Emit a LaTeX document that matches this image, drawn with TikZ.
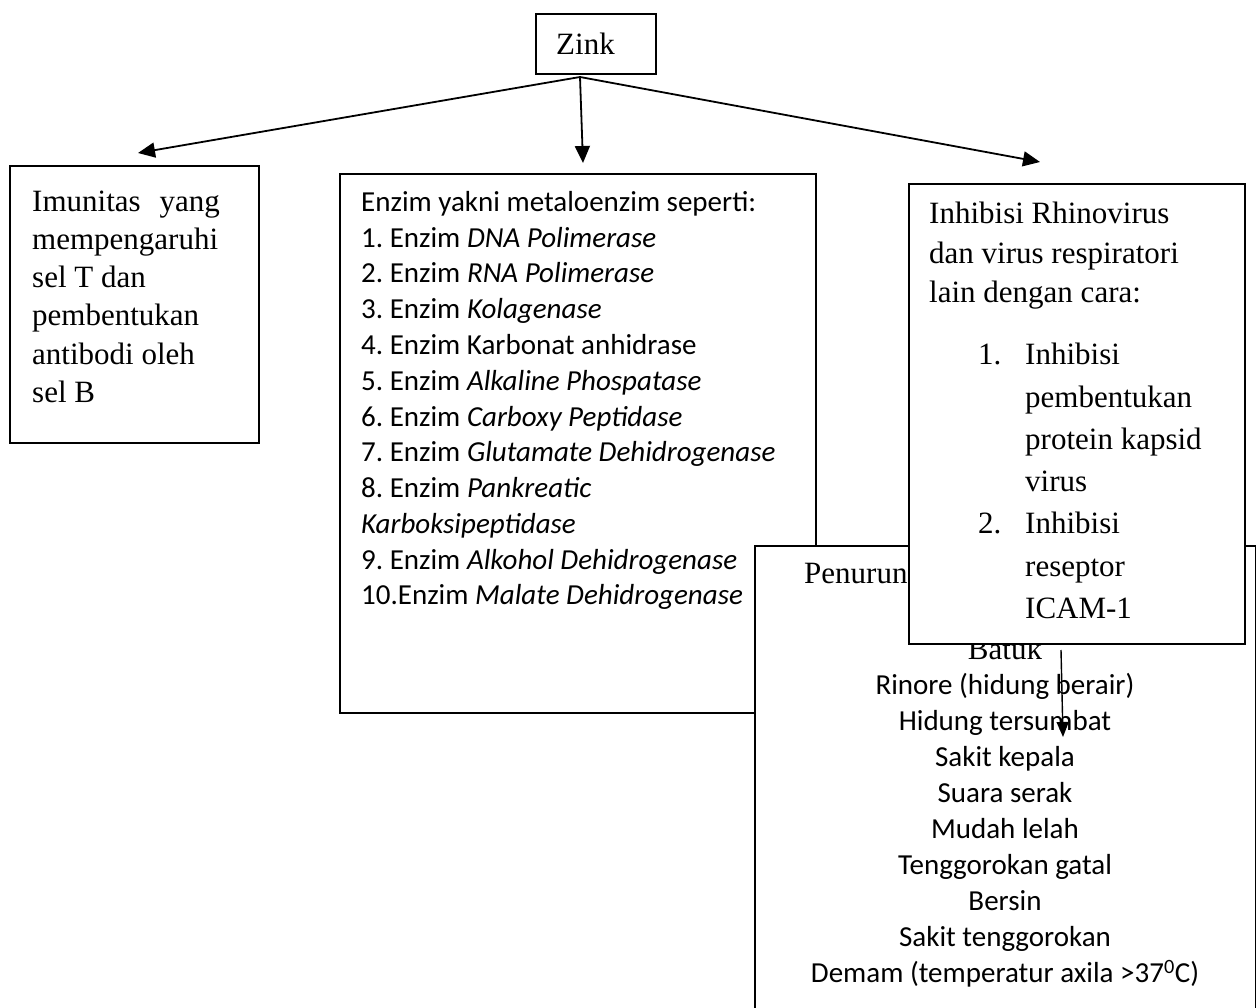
\documentclass[tikz,border=0pt]{standalone}
\usepackage{fontspec}
\setmainfont{Liberation Serif}
\newfontfamily\calfont{Carlito}
\usetikzlibrary{arrows.meta}
\frenchspacing
\begin{document}
\begin{tikzpicture}[x=1pt,y=-1pt,
  box/.style={draw, line width=1.7pt, fill=white, rectangle, inner sep=0pt, anchor=north west},
  tms/.style={font=\fontsize{31}{38}\selectfont, inner sep=0pt},
  cal/.style={font=\calfont\fontsize{29}{36}\selectfont, inner sep=0pt},
  arr/.style={-{Triangle[length=17pt,width=15pt]}, line width=1.8pt},
  arrthin/.style={-{Triangle[length=15pt,width=12pt]}, line width=1.4pt}]
\useasboundingbox (0,0) rectangle (1256,1008);
\clip (0,0) rectangle (1256,1008);

% Zink
\node[box, minimum width=120pt, minimum height=60pt] (zink) at (535,13) {};
\node[tms, anchor=base west] (zinkt) at (556,55) {Zink};

% left box
\node[box, minimum width=249pt, minimum height=277pt] (imun) at (9,165) {};
\foreach \t [count=\i from 0] in {Imunitas\hspace{19pt}yang, mempengaruhi, sel T dan, pembentukan, antibodi oleh, sel B}
  \node[tms, anchor=base west] (imun\i) at (32,212+38*\i) {\t};

% middle box
\node[box, minimum width=476pt, minimum height=539pt] (enz) at (339,173) {};
\foreach \t [count=\i from 0] in {Enzim yakni metaloenzim seperti:,
  1. Enzim \textit{DNA Polimerase},
  2. Enzim \textit{RNA Polimerase},
  3. Enzim \textit{Kolagenase},
  4. Enzim Karbonat anhidrase,
  5. Enzim \textit{Alkaline Phospatase},
  6. Enzim \textit{Carboxy Peptidase},
  7. Enzim \textit{Glutamate Dehidrogenase},
  8. Enzim \textit{Pankreatic},
  \textit{Karboksipeptidase},
  9. Enzim \textit{Alkohol Dehidrogenase},
  10.Enzim \textit{Malate Dehidrogenase}}
  \node[cal, anchor=base west] (enz\i) at (361,211.5+35.75*\i) {\t};

% Penurunan box
\node[box, minimum width=501pt, minimum height=520pt] (pen) at (754,545) {};
\node[tms, anchor=base west] (pent) at (804,583) {Penurunan};
\node[tms, anchor=base] (pen0) at (1005,659) {Batuk};
\foreach \t [count=\i from 1] in {Rinore (hidung berair),
  Hidung tersumbat,
  Sakit kepala,
  Suara serak,
  Mudah lelah,
  Tenggorokan gatal,
  Bersin,
  Sakit tenggorokan,
  Demam (temperatur axila >37\textsuperscript{0}C)}
  \node[cal, anchor=base] (pen\i) at (1005,659+35.9*\i) {\t};

% Inhibisi box
\node[box, minimum width=336pt, minimum height=460pt] (inh) at (908,183) {};
\node[tms, anchor=base west] (inh0) at (929,224) {Inhibisi Rhinovirus};
\node[tms, anchor=base west] (inh1) at (929,263.5) {dan virus respiratori};
\node[tms, anchor=base west] (inh2) at (929,303) {lain dengan cara:};
\node[tms, anchor=base west] (num1) at (978,365) {1.};
\node[tms, anchor=base west] (num2) at (978,533) {2.};
\foreach \t [count=\i from 0] in {Inhibisi, pembentukan, protein kapsid, virus, Inhibisi, reseptor, ICAM-1}
  \node[tms, anchor=base west] (li\i) at (1025,365+42.2*\i) {\t};

% connectors
\coordinate (zsrc) at (580,77);
\coordinate (tipL) at (138,153);
\coordinate (tipM) at (583,163);
\coordinate (tipR) at (1040,162);
\draw[arr] (zsrc) -- (tipL);
\draw[arr] (zsrc) -- (tipM);
\draw[arr] (zsrc) -- (tipR);
\coordinate (inhS) at (1061,650);
\coordinate (penT) at (1063,737);
\draw[arrthin] (inhS) -- (penT);
\end{tikzpicture}
\end{document}
